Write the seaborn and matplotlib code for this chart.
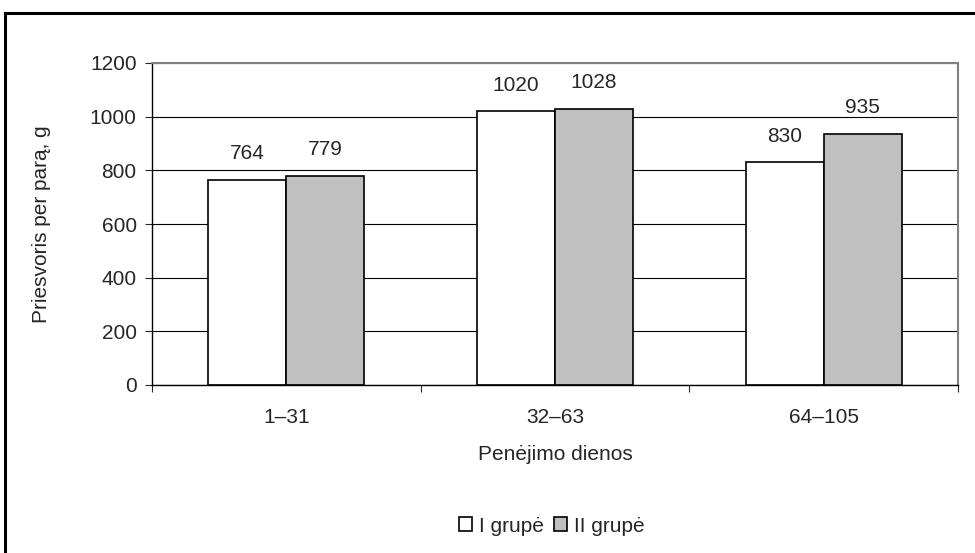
import pandas as pd
import matplotlib
matplotlib.use('Agg')
import matplotlib.pyplot as plt
import seaborn as sns
from matplotlib.patches import Patch, Rectangle

# Data
periods = ['1–31', '32–63', '64–105']
group_names = ['I grupė', 'II grupė']
group_1 = [764, 1020, 830]
group_2 = [779, 1028, 935]
colors = ['white', '#c0c0c0']

df = pd.DataFrame({
    'Periodas': periods * 2,
    'Grupė': [group_names[0]] * len(periods) + [group_names[1]] * len(periods),
    'Priesvoris': group_1 + group_2,
})

sns.set_style('white')
plt.rcParams['font.family'] = ['Liberation Sans', 'DejaVu Sans']
fs = 15

fig = plt.figure(figsize=(9.75, 5.53), dpi=100)
ax = fig.add_axes([152 / 975, 1 - 385 / 553, 806 / 975, 322 / 553])

sns.barplot(data=df, x='Periodas', y='Priesvoris', hue='Grupė',
            palette=colors, edgecolor='black', linewidth=1.2,
            width=0.58, saturation=1, legend=False, ax=ax)

ax.set_xlim(-0.5, 2.5)
ax.set_ylim(0, 1200)
ax.set_yticks(range(0, 1201, 200))
ax.yaxis.grid(True, color='black', lw=0.8)
ax.set_axisbelow(True)

for side in ['left', 'bottom']:
    ax.spines[side].set_color('black')
    ax.spines[side].set_linewidth(1.0)
for side in ['top', 'right']:
    ax.spines[side].set_color('#808080')
    ax.spines[side].set_linewidth(1.5)

ax.tick_params(axis='y', left=True, length=5, width=0.8, direction='out',
               labelsize=fs, pad=6)
ax.tick_params(axis='x', which='major', length=0, labelsize=fs, pad=16.5)
ax.set_xticks([-0.5, 0.5, 1.5, 2.5], minor=True)
ax.tick_params(axis='x', which='minor', bottom=True, length=5, width=0.8,
               direction='out')

for cont in ax.containers:
    ax.bar_label(cont, padding=12, fontsize=fs)

ax.set_xlabel('Penėjimo dienos', fontsize=fs)
ax.xaxis.set_label_coords(0.5, -0.186)
ax.set_ylabel('Priesvoris per parą, g', fontsize=fs)
ax.yaxis.set_label_coords(-0.125, 0.5)

handles = [Patch(facecolor=c, edgecolor='black', lw=1.2) for c in colors]
fig.legend(handles, group_names, loc='center', ncol=2, frameon=False,
           bbox_to_anchor=(552 / 975, 1 - 526 / 553), fontsize=fs,
           handlelength=0.62, handleheight=0.62, handletextpad=0.33,
           columnspacing=0.5)

fig.patches.append(Rectangle((5 / 975, -0.1), 1.2, 1.1 - 13 / 553,
                             transform=fig.transFigure, fill=False,
                             ec='black', lw=2.2))

fig.savefig('out.png', dpi=100)
